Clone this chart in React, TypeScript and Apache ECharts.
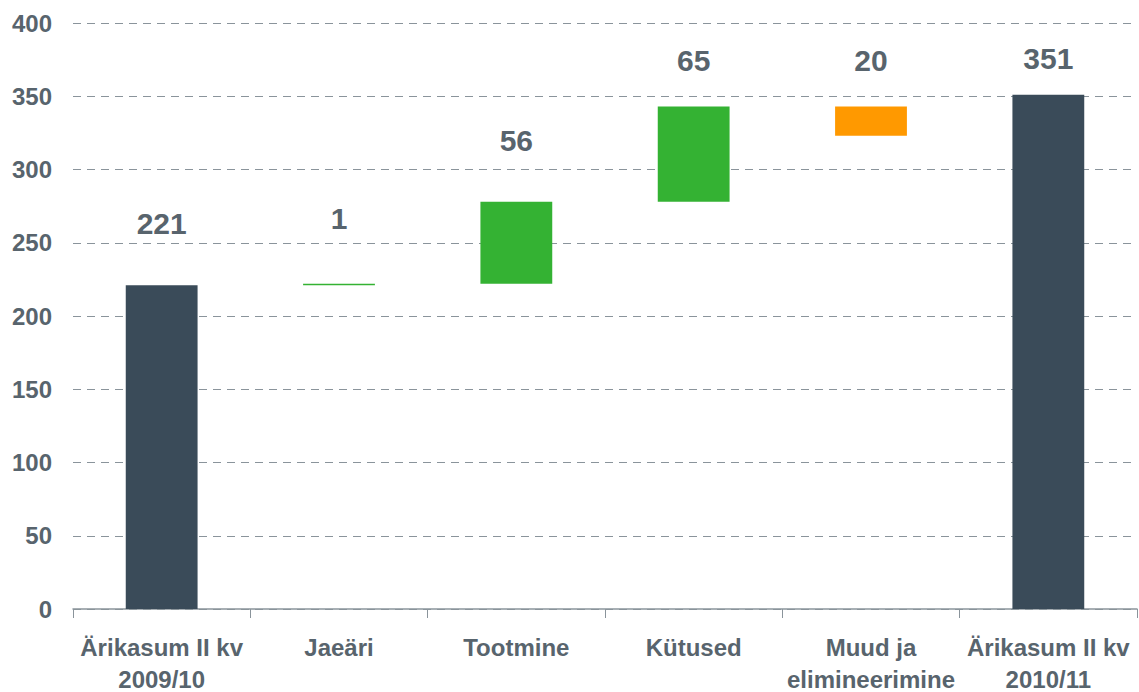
import React, { useEffect, useRef } from "react";
import * as echarts from "echarts";

const categories = ["Ärikasum II kv\n2009/10", "Jaeäri", "Tootmine", "Kütused", "Muud ja\nelimineerimine", "Ärikasum II kv\n2010/11"];
const baseValues = [0, 221, 222, 278, 323, 0];
const barValues = [221, 1, 56, 65, 20, 351];
const barColors = ["#3a4b59", "#34b233", "#34b233", "#34b233", "#ff9900", "#3a4b59"];
const labelDistances = [47, 50, 46, 31, 31, 21];
const yTicks = { min: 0, max: 400, interval: 50 };

export default function App() {
  const ref = useRef<HTMLDivElement>(null);
  useEffect(() => {
    if (!ref.current) return;
    const chart = echarts.init(ref.current, undefined, { renderer: "svg" });
    const textColor = "#58646d";
    chart.setOption({
      animation: false,
      grid: { left: 73, right: 2, top: 23, bottom: 83, containLabel: false, outerBoundsMode: "none" },
      xAxis: {
        type: "category",
        data: categories,
        axisLine: { lineStyle: { color: "#8a949b", width: 1.5 } },
        axisTick: { show: true, length: 9, lineStyle: { color: "#8a949b" } },
        axisLabel: {
          color: textColor,
          fontFamily: "Liberation Sans, Arial, sans-serif",
          fontWeight: "bold",
          fontSize: 24,
          lineHeight: 32,
          margin: 22,
          interval: 0,
        },
      },
      yAxis: {
        type: "value",
        min: yTicks.min,
        max: yTicks.max,
        interval: yTicks.interval,
        axisLine: { show: false },
        axisTick: { show: false },
        axisLabel: {
          color: textColor,
          fontFamily: "Liberation Sans, Arial, sans-serif",
          fontWeight: "bold",
          fontSize: 24,
          margin: 21,
        },
        splitLine: { lineStyle: { color: "#8a949b", type: [8, 6], width: 1.2 } },
      },
      series: [
        {
          type: "bar",
          stack: "w",
          data: baseValues,
          itemStyle: { color: "transparent" },
          silent: true,
        },
        {
          type: "bar",
          stack: "w",
          barWidth: "40.5%",
          data: barValues.map((v, i) => ({
            value: v,
            itemStyle: { color: barColors[i] },
            label: {
              show: true,
              position: "top",
              distance: labelDistances[i],
              color: textColor,
              fontFamily: "Liberation Sans, Arial, sans-serif",
              fontWeight: "bold",
              fontSize: 30,
            },
          })),
        },
      ],
    });
    return () => chart.dispose();
  }, []);
  return <div ref={ref} style={{ width: 1139, height: 692, position: "absolute", left: 0, top: 0 }} />;
}
